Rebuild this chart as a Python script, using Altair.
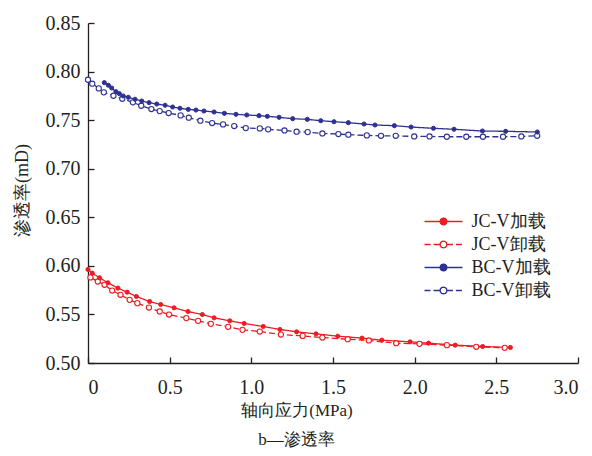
import math
import altair as alt
import pandas as pd

# ---------------- data ----------------
series_names = ['JC-V加载', 'JC-V卸载', 'BC-V加载', 'BC-V卸载']

jc_load_x = [0.000, 0.026, 0.071, 0.122, 0.183, 0.240, 0.296, 0.377, 0.445, 0.527,
             0.612, 0.700, 0.772, 0.868, 0.956, 1.073, 1.175, 1.277, 1.396, 1.529,
             1.678, 1.799, 1.972, 2.085, 2.248, 2.416, 2.586]
jc_load_y = [0.5963, 0.5925, 0.5877, 0.5826, 0.5771, 0.5729, 0.5685, 0.5633, 0.5602, 0.5568,
             0.5530, 0.5499, 0.5465, 0.5434, 0.5407, 0.5376, 0.5345, 0.5321, 0.5300, 0.5276,
             0.5256, 0.5235, 0.5218, 0.5204, 0.5184, 0.5170, 0.5160]

jc_unload_x = [0.015, 0.060, 0.101, 0.148, 0.199, 0.255, 0.302, 0.373, 0.439, 0.496,
               0.602, 0.674, 0.752, 0.858, 0.946, 1.052, 1.181, 1.314, 1.435, 1.590,
               1.719, 1.887, 2.030, 2.197, 2.377, 2.551]
jc_unload_y = [0.5881, 0.5839, 0.5805, 0.5746, 0.5702, 0.5650, 0.5616, 0.5571, 0.5530, 0.5499,
               0.5462, 0.5434, 0.5403, 0.5372, 0.5341, 0.5324, 0.5293, 0.5279, 0.5262, 0.5245,
               0.5232, 0.5204, 0.5197, 0.5184, 0.5167, 0.5156]

bc_load_x = [0.100, 0.125, 0.145, 0.171, 0.192, 0.216, 0.247, 0.288, 0.329, 0.374,
             0.421, 0.472, 0.518, 0.563, 0.614, 0.661, 0.710, 0.772, 0.835, 0.906,
             0.972, 1.047, 1.098, 1.170, 1.253, 1.343, 1.425, 1.506, 1.594, 1.690,
             1.757, 1.876, 1.978, 2.115, 2.241, 2.415, 2.557, 2.751]
bc_load_y = [0.7886, 0.7859, 0.7831, 0.7793, 0.7773, 0.7749, 0.7735, 0.7715, 0.7697, 0.7680,
             0.7666, 0.7653, 0.7635, 0.7622, 0.7611, 0.7604, 0.7594, 0.7584, 0.7570, 0.7560,
             0.7553, 0.7546, 0.7539, 0.7529, 0.7515, 0.7508, 0.7494, 0.7484, 0.7474, 0.7460,
             0.7450, 0.7443, 0.7429, 0.7416, 0.7406, 0.7388, 0.7385, 0.7378]

bc_unload_x = [0.000, 0.026, 0.066, 0.097, 0.156, 0.210, 0.275, 0.326, 0.388, 0.439,
               0.494, 0.567, 0.617, 0.688, 0.760, 0.827, 0.895, 0.966, 1.052, 1.103,
               1.203, 1.277, 1.345, 1.435, 1.533, 1.594, 1.707, 1.794, 1.884, 1.997,
               2.091, 2.197, 2.316, 2.418, 2.541, 2.653, 2.750]
bc_unload_y = [0.7916, 0.7875, 0.7827, 0.7786, 0.7751, 0.7720, 0.7683, 0.7648, 0.7614, 0.7593,
               0.7573, 0.7549, 0.7525, 0.7494, 0.7470, 0.7456, 0.7439, 0.7418, 0.7415, 0.7405,
               0.7394, 0.7381, 0.7377, 0.7363, 0.7357, 0.7350, 0.7343, 0.7339, 0.7339, 0.7332,
               0.7332, 0.7329, 0.7329, 0.7329, 0.7329, 0.7332, 0.7339]

x_ticks = [0, 0.5, 1.0, 1.5, 2.0, 2.5, 3.0]
y_ticks = [0.50, 0.55, 0.60, 0.65, 0.70, 0.75, 0.80, 0.85]

rows = []
for name, xs, ys in [(series_names[0], jc_load_x, jc_load_y),
                     (series_names[1], jc_unload_x, jc_unload_y),
                     (series_names[2], bc_load_x, bc_load_y),
                     (series_names[3], bc_unload_x, bc_unload_y)]:
    for xv, yv in zip(xs, ys):
        rows.append({'series': name, 'stress': xv, 'perm': yv})
df = pd.DataFrame(rows)

# ---------------- style ----------------
RED = '#ED1C24'
BLUE = '#2E3192'
INK = '#231F20'
FONT = "Liberation Serif"
W, H = 490, 340

xscale = alt.Scale(domain=[0, 3], nice=False)
yscale = alt.Scale(domain=[0.5, 0.85], nice=False)
colors = [RED, RED, BLUE, BLUE]
dashes = [[1, 0], [6, 3], [1, 0], [6, 3]]
fills = [RED, 'white', BLUE, 'white']

# legend symbol: line + small circle (circle built from short sub-paths so a
# dash pattern does not break it up)
R = 0.18
n = 12
pts = [(R * math.cos(2 * math.pi * k / n), R * math.sin(2 * math.pi * k / n)) for k in range(n)]
f = lambda v: f"{v:.4f}"
sym = f"M-1,0L{f(-R)},0M{f(R)},0L1,0"
for k in range(n):
    a, b = pts[k], pts[(k + 1) % n]
    sym += f"M{f(a[0])},{f(a[1])}L{f(b[0])},{f(b[1])}"
sym += "M" + "L".join(f"{f(p[0])},{f(p[1])}" for p in pts) + "Z"

legend = alt.Legend(
    title=None, orient='none', legendX=335.5, legendY=187, padding=0,
    symbolSize=1444, symbolStrokeWidth=1.3, clipHeight=23, rowPadding=0,
    labelOffset=8, labelFont=FONT, labelFontSize=18, labelColor=INK,
    symbolType=sym, symbolOpacity=1,
)

color_enc = alt.Color('series:N', scale=alt.Scale(domain=series_names, range=colors), legend=legend)
fill_enc = alt.Fill('series:N', scale=alt.Scale(domain=series_names, range=fills), legend=legend)

lines = alt.Chart(df).mark_line(strokeWidth=1.3).encode(
    x=alt.X('stress:Q', scale=xscale, axis=alt.Axis(
        orient='bottom', values=x_ticks, ticks=False, tickSize=0, grid=False,
        labelExpr="datum.value == 0 ? '0' : format(datum.value, '.1f')",
        labelPadding=14, domainColor=INK, domainWidth=1.3,
        title='轴向应力(MPa)', titleFontSize=17, titleX=208.5, titleY=39,
        titleBaseline='top', titleAlign='center')),
    y=alt.Y('perm:Q', scale=yscale, axis=alt.Axis(
        orient='left', values=y_ticks, ticks=False, tickSize=0, grid=False, format='.2f',
        labelPadding=8, domainColor=INK, domainWidth=1.3,
        title='渗透率(mD)', titleFontSize=18, titleX=-66, titleY=167, titleAlign='center',
        titleBaseline='middle', titleAngle=270)),
    color=color_enc,
    strokeDash=alt.StrokeDash('series:N', scale=alt.Scale(domain=series_names, range=dashes),
                              legend=legend),
)

x_in = alt.X('stress:Q', scale=xscale, axis=alt.Axis(
    orient='top', offset=-H, values=x_ticks, labels=False, domain=False,
    tickSize=6, tickColor=INK, tickWidth=1.3, grid=False, title=None))
y_in = alt.Y('perm:Q', scale=yscale, axis=alt.Axis(
    orient='right', offset=-W, values=y_ticks, labels=False, domain=False,
    tickSize=6, tickColor=INK, tickWidth=1.3, grid=False, title=None))

open_pts = alt.Chart(df).transform_filter(
    alt.FieldOneOfPredicate(field='series', oneOf=[series_names[1], series_names[3]])
).mark_point(opacity=1, strokeWidth=1.1, filled=False, size=27).encode(
    x=x_in, y=y_in, color=color_enc, fill=fill_enc)

filled_pts = alt.Chart(df).transform_filter(
    alt.FieldOneOfPredicate(field='series', oneOf=[series_names[0], series_names[2]])
).mark_point(opacity=1, strokeWidth=1.0, filled=False, size=17).encode(
    x=alt.X('stress:Q', scale=xscale, axis=None),
    y=alt.Y('perm:Q', scale=yscale, axis=None),
    color=color_enc, fill=fill_enc)

chart = alt.layer(lines, open_pts, filled_pts).resolve_axis(
    x='independent', y='independent').properties(
    width=W, height=H,
    autosize=alt.AutoSizeParams(type='none'),
    padding={'left': 88, 'top': 23, 'right': 14, 'bottom': 93},
    title=alt.TitleParams(text='b—渗透率', orient='bottom', anchor='middle', frame='group',
                          dx=-36.5, offset=14, font=FONT, fontSize=17, fontWeight='normal',
                          color=INK),
    background='white',
).configure(font=FONT).configure_axis(
    labelFont=FONT, labelFontSize=20, labelColor=INK,
    titleFont=FONT, titleFontWeight='normal', titleColor=INK,
).configure_view(stroke=None)

chart.save('out.html', embed_options={'renderer': 'svg', 'actions': False})
